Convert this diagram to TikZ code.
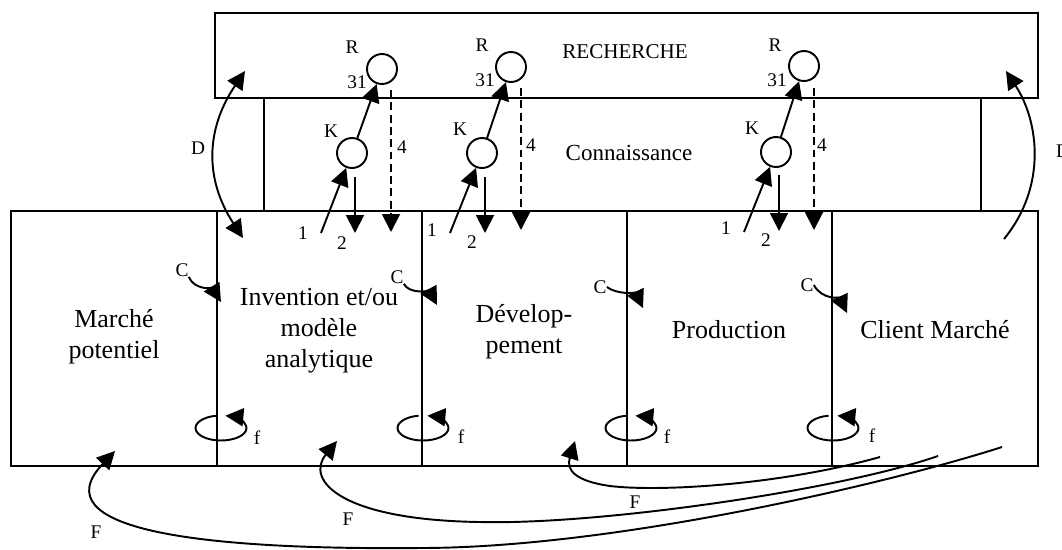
\documentclass[tikz,border=0pt]{standalone}
\usepackage{fontspec}
\setmainfont{Liberation Serif}
\usepackage{tikz}
\usetikzlibrary{positioning, arrows.meta, calc}

\begin{document}
\begin{tikzpicture}[
  x=0.02cm, y=-0.02cm,
  txt/.style={align=center, inner sep=0pt, font=\fontsize{14.8}{17.6}\selectfont},
  lbl/.style={inner sep=0pt, font=\fontsize{11}{13}\selectfont},
  circ/.style={draw, circle, line width=1.1pt, minimum size=0.6cm, inner sep=0pt},
  boxline/.style={line width=1.2pt},
  arrow/.style={-{Triangle[length=3.6mm, width=3.6mm]}, line width=1.1pt},
  dbl/.style={{Triangle[length=3.6mm, width=3.6mm]}-{Triangle[length=3.6mm, width=3.6mm]}, line width=1.1pt},
  hidden/.style={dash pattern=on 4.5pt off 2.5pt}
]
\useasboundingbox (0,0) rectangle (1062,549);

% Frames: recherche, connaissance, chain
\draw[boxline] (215,13) rectangle (1038,98);
\draw[boxline] (264,98) -- (264,211);
\draw[boxline] (981,98) -- (981,211);
\draw[boxline] (11,211) rectangle (1038,466);
\draw[boxline] (217,211) -- (217,466);
\draw[boxline] (422,211) -- (422,466);
\draw[boxline] (627,211) -- (627,466);
\draw[boxline] (832,211) -- (832,466);

% Texts
\node[txt, font=\fontsize{12}{14}\selectfont] (recherche) at (625,52) {RECHERCHE};
\node[txt, font=\fontsize{13.1}{15}\selectfont] (connaissance) at (629,153) {Connaissance};
\node[txt] (marche) at (114,337) {Marché\\potentiel};
\node[txt] (invention) at (319,331) {Invention et/ou\\modèle\\analytique};
\node[txt] (devel) at (524,332) {Dévelop-\\pement};
\node[txt] (production) at (729,330) {Production};
\node[txt] (client) at (935,330) {Client Marché};

% K and R circles
\node[circ] (k1) at (352,153) {};
\node[circ] (r1) at (382,69) {};
\node[circ] (k2) at (482,153) {};
\node[circ] (r2) at (511,67) {};
\node[circ] (k3) at (776,152) {};
\node[circ] (r3) at (804,66) {};

\node[lbl] (rl1) at (352,47) {R};
\node[lbl] (nl1) at (357,82) {31};
\node[lbl] (kl1) at (331,131) {K};
\node[lbl] (fl1) at (402,147) {4};
\node[lbl] (ol1) at (303,233) {1};
\node[lbl] (tl1) at (342,243) {2};
\node[lbl] (rl2) at (482,45) {R};
\node[lbl] (nl2) at (485,80) {31};
\node[lbl] (kl2) at (460,129) {K};
\node[lbl] (fl2) at (531,145) {4};
\node[lbl] (ol2) at (432,230) {1};
\node[lbl] (tl2) at (472,242) {2};
\node[lbl] (rl3) at (775,45) {R};
\node[lbl] (nl3) at (777,80) {31};
\node[lbl] (kl3) at (752,128) {K};
\node[lbl] (fl3) at (822,145) {4};
\node[lbl] (ol3) at (726,228) {1};
\node[lbl] (tl3) at (766,240) {2};

\coordinate (in1) at (321,233);
\coordinate (out1) at (355,177);
\coordinate (down1) at (355,233);
\coordinate (dtop1) at (391,90);
\coordinate (dbot1) at (391,232);
\coordinate (in2) at (450,233);
\coordinate (out2) at (485,177);
\coordinate (down2) at (485,233);
\coordinate (dtop2) at (521,88);
\coordinate (dbot2) at (521,230);
\coordinate (in3) at (744,232);
\coordinate (out3) at (779,175);
\coordinate (down3) at (779,231);
\coordinate (dtop3) at (814,88);
\coordinate (dbot3) at (814,230);

\draw[arrow] (in1) -- (k1);
\draw[arrow] (k1) -- (r1);
\draw[arrow] (out1) -- (down1);
\draw[arrow, hidden] (dtop1) -- (dbot1);
\draw[arrow] (in2) -- (k2);
\draw[arrow] (k2) -- (r2);
\draw[arrow] (out2) -- (down2);
\draw[arrow, hidden] (dtop2) -- (dbot2);
\draw[arrow] (in3) -- (k3);
\draw[arrow] (k3) -- (r3);
\draw[arrow] (out3) -- (down3);
\draw[arrow, hidden] (dtop3) -- (dbot3);

% D arrows
\coordinate (dl1) at (245,71);
\coordinate (dl2) at (243,238);
\coordinate (dr1) at (1004,239);
\coordinate (dr2) at (1006,71);
\draw[dbl] (dl1) .. controls (205,130) and (205,180) .. (dl2);
\draw[arrow] (dr1) .. controls (1048,185) and (1038,120) .. (dr2);
\node[lbl] (dlab1) at (198,148) {D};
\node[lbl] (dlab2) at (1063,151) {D};

% C arrows
\node[lbl] (c1) at (182,270) {C};
\node[lbl] (c2) at (397,277) {C};
\node[lbl] (c3) at (600,287) {C};
\node[lbl] (c4) at (807,285) {C};
\coordinate (c1e) at (221,302);
\coordinate (c2e) at (437,305);
\coordinate (c3e) at (643,308);
\coordinate (c4e) at (847,313);
\draw[arrow] (c1.south east) .. controls (194,290) and (213,289) .. (c1e);
\draw[arrow] (c2.south east) .. controls (409,294) and (430,292) .. (c2e);
\draw[arrow] (c3.east) .. controls (618,295) and (636,293) .. (c3e);
\draw[arrow] (c4.east) .. controls (822,300) and (840,298) .. (c4e);

% f loops
\draw[arrow] (221,428) ++(260:25.5 and 12.5) arc[start angle=260, end angle=-80, x radius=25.5, y radius=12.5];
\draw[arrow] (423,428) ++(260:25.5 and 12.5) arc[start angle=260, end angle=-80, x radius=25.5, y radius=12.5];
\draw[arrow] (631,428) ++(260:25.5 and 12.5) arc[start angle=260, end angle=-80, x radius=25.5, y radius=12.5];
\draw[arrow] (833,428) ++(260:25.5 and 12.5) arc[start angle=260, end angle=-80, x radius=25.5, y radius=12.5];
\node[lbl] (floop1) at (257,438) {f};
\node[lbl] (floop2) at (461,437) {f};
\node[lbl] (floop3) at (667,437) {f};
\node[lbl] (floop4) at (872,436) {f};

% F feedback
\coordinate (fa) at (880,457);
\coordinate (fb) at (938,456);
\coordinate (fc) at (1002,447);
\coordinate (ta) at (575,441);
\coordinate (tb) at (337,441);
\coordinate (tc) at (115,451);
\draw[arrow] (fa) .. controls (780,485) and (660,492) .. (610,486) .. controls (575,481) and (566,470) .. (ta);
\draw[arrow] (fb) .. controls (840,490) and (600,525) .. (480,522) .. controls (340,520) and (305,480) .. (tb);
\draw[arrow] (fc) .. controls (900,480) and (620,548) .. (420,548) .. controls (200,550) and (40,530) .. (tc);
\node[lbl] (fla) at (635,502) {F};
\node[lbl] (flb) at (348,519) {F};
\node[lbl] (flc) at (96,532) {F};

\end{tikzpicture}
\end{document}
